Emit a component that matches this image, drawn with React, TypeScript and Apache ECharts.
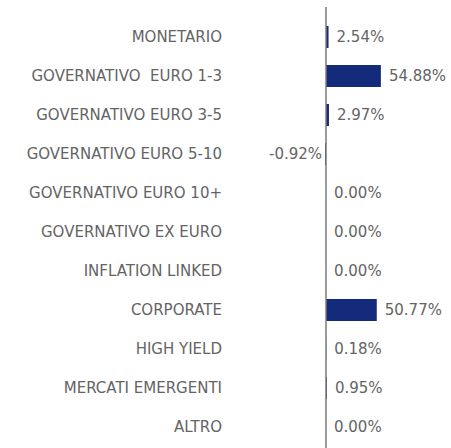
import React, { useEffect, useRef } from "react";
import * as echarts from "echarts";

const categories = [
  "MONETARIO",
  "GOVERNATIVO  EURO 1-3",
  "GOVERNATIVO EURO 3-5",
  "GOVERNATIVO EURO 5-10",
  "GOVERNATIVO EURO 10+",
  "GOVERNATIVO EX EURO",
  "INFLATION LINKED",
  "CORPORATE",
  "HIGH YIELD",
  "MERCATI EMERGENTI",
  "ALTRO",
];
const values = [2.54, 54.88, 2.97, -0.92, 0.0, 0.0, 0.0, 50.77, 0.18, 0.95, 0.0];

const FONT = "'DejaVu Sans', sans-serif";
const GRAY = "#646464";

export default function App() {
  const ref = useRef<HTMLDivElement>(null);
  useEffect(() => {
    if (!ref.current) return;
    const chart = echarts.init(ref.current, undefined, { renderer: "svg" });
    const data = values.map((v) => ({
      value: v,
      label:
        v < 0
          ? { position: "left" as const, distance: 3 }
          : { position: "right" as const, distance: 8 },
    }));
    chart.setOption({
      animation: false,
      grid: { left: 226, right: 0, top: 17.5, bottom: 1.5, containLabel: false },
      xAxis: {
        type: "value",
        min: -100,
        max: 125,
        show: false,
        splitLine: { show: false },
      },
      yAxis: {
        type: "category",
        data: categories,
        inverse: true,
        axisLine: { show: false },
        axisTick: { show: false },
        axisLabel: {
          margin: 4,
          color: GRAY,
          fontSize: 15,
          fontFamily: FONT,
          fontWeight: "normal",
        },
      },
      series: [
        {
          type: "bar",
          data,
          barWidth: 22,
          itemStyle: { color: "#142a7b" },
          label: {
            show: true,
            color: GRAY,
            fontSize: 15,
            fontFamily: FONT,
            fontWeight: "normal",
            formatter: (p: any) => p.value.toFixed(2) + "%",
          },
        },
      ],
    });
    const x0 = chart.convertToPixel({ xAxisIndex: 0 }, 0) as number;
    chart.setOption({
      graphic: [
        {
          type: "line",
          shape: { x1: x0, y1: 7, x2: x0, y2: 448 },
          style: { stroke: "#7a7a7a", lineWidth: 1.5 },
          z: 10,
        },
      ],
    });
    return () => chart.dispose();
  }, []);
  return (
    <div
      ref={ref}
      style={{ position: "absolute", left: 0, top: 0, width: 451, height: 448 }}
    />
  );
}
